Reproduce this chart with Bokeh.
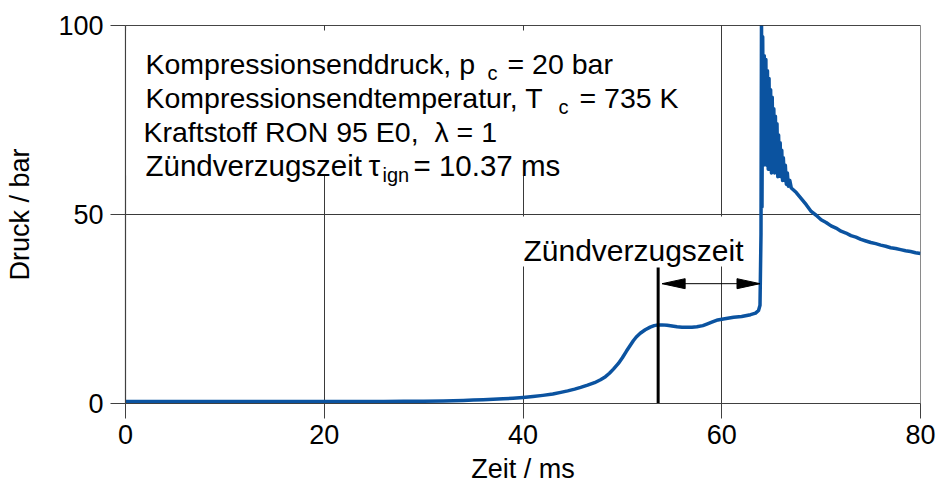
from bokeh.plotting import figure
from bokeh.models import Range1d, FixedTicker, Label, BoxAnnotation, Span
from bokeh.embed import file_html
from bokeh.resources import INLINE

# Gemessener Druckverlauf der Kompressionsmaschine: Zeit in ms, Druck in bar
zeit_ms = [
    0, 2, 4, 6, 8, 10, 12, 14, 16, 18, 20, 22, 24, 26, 28, 30, 32, 33, 34, 35,
    36, 37, 38, 39, 40, 41, 42, 43, 43.8, 44.5, 45.2, 45.8, 46.5, 47.2, 47.8,
    48.3, 48.7, 49.1, 49.6, 50.0, 50.4, 50.8, 51.1, 51.4, 51.8, 52.3, 52.8,
    53.2, 53.6, 54.0, 54.5, 55.0, 55.5, 56.0, 56.5, 57.0, 57.5, 58.1, 58.5,
    59.0, 59.6, 60.3, 61.2, 62.0, 62.9, 63.4, 63.7, 63.85, 63.95,
    64.0, 64.05, 64.12, 64.2, 64.28, 64.36, 64.44, 64.52, 64.6, 64.68, 64.76,
    64.84, 64.92, 65.0, 65.08, 65.16, 65.24, 65.32, 65.4, 65.48, 65.56, 65.64,
    65.72, 65.8, 65.88, 65.96, 66.04, 66.12, 66.2, 66.3, 66.4, 66.5, 66.6,
    66.7, 66.85, 67.0, 67.5, 68.0, 68.5, 69.0, 69.5, 70.0, 70.5, 71.0, 71.5,
    72.0, 72.5, 73.0, 73.5, 74.0, 74.5, 75.0, 75.5, 76.0, 76.5, 77.0, 77.5,
    78.0, 78.5, 79.0, 79.5, 80.0,
]
druck_bar = [
    0.5, 0.5, 0.5, 0.5, 0.5, 0.5, 0.5, 0.5, 0.5, 0.5, 0.5, 0.5, 0.55, 0.55,
    0.6, 0.6, 0.65, 0.7, 0.8, 0.9, 1.0, 1.1, 1.25, 1.4, 1.6, 1.85, 2.15, 2.5,
    2.95, 3.35, 3.8, 4.25, 4.85, 5.5, 6.3, 7.1, 8.0, 9.1, 10.6, 12.1, 13.8,
    15.4, 16.6, 17.6, 18.6, 19.5, 20.2, 20.6, 20.8, 20.8, 20.7, 20.5, 20.3,
    20.2, 20.2, 20.2, 20.3, 20.6, 21.0, 21.5, 22.1, 22.4, 22.8, 23.0, 23.5,
    23.9, 24.6, 26.0, 45.0,
    103.0, 52.0, 97.0, 63.0, 92.0, 64.0, 91.0, 63.0, 88.0, 62.0, 86.0, 62.0,
    83.0, 61.0, 81.0, 62.0, 78.0, 61.0, 76.0, 62.0, 74.0, 60.0, 71.0, 61.0,
    69.0, 60.0, 67.0, 59.0, 65.0, 59.0, 63.0, 58.0, 61.0, 57.5, 59.0, 57.0,
    55.8, 54.2, 52.6, 50.8, 49.8, 48.6, 47.9, 47.0, 46.4, 45.6, 45.1, 44.4,
    44.0, 43.4, 43.0, 42.6, 42.3, 41.9, 41.6, 41.2, 41.0, 40.7, 40.4, 40.2,
    39.9, 39.7,
]

# Zündverzug: Beginn (Ende der Kompression) und Dauer in ms
zv_beginn_ms = 53.6
zv_dauer_ms = 10.37
zv_marke_bis_bar = 36.0
zv_pfeil_bar = 31.7

x_ticks = [0, 20, 40, 60, 80]
y_ticks = [0, 50, 100]

FONT = "Liberation Sans"
BLUE = "#0b53a0"
NBSP = "\u00a0"

# Frame geometry in pixels (used to place annotation text)
W, H = 936, 488
LEFT, RIGHT, TOP, BOTTOM = 125, 16, 25, 85
FW, FH = W - LEFT - RIGHT, H - TOP - BOTTOM
X0, X1, Y0, Y1 = 0, 80, 0, 100


def tx(px):
    return X0 + (px - LEFT) * (X1 - X0) / FW


def ty(py):
    return Y1 - (py - TOP) * (Y1 - Y0) / FH


p = figure(width=W, height=H, output_backend="svg", toolbar_location=None,
           x_range=Range1d(X0, X1), y_range=Range1d(Y0, Y1),
           min_border_left=LEFT, min_border_right=RIGHT,
           min_border_top=TOP, min_border_bottom=BOTTOM)
p.background_fill_color = "white"
p.border_fill_color = "white"
p.outline_line_color = "#8a8a8a"
p.outline_line_width = 1

for ax in (p.xaxis[0], p.yaxis[0]):
    ax.axis_line_color = "#404040"
    ax.axis_line_width = 1.2
    ax.major_tick_line_color = "#404040"
    ax.major_tick_out = 15
    ax.major_tick_in = 0
    ax.minor_tick_line_color = None
    ax.major_label_text_font = FONT
    ax.major_label_text_font_size = "27px"
    ax.major_label_text_color = "black"
    ax.axis_label_text_font = FONT
    ax.axis_label_text_font_size = "27px"
    ax.axis_label_text_font_style = "normal"
    ax.axis_label_text_color = "black"

p.xaxis.ticker = FixedTicker(ticks=x_ticks)
p.yaxis.ticker = FixedTicker(ticks=y_ticks)
p.xaxis.axis_label = "Zeit / ms"
p.yaxis.axis_label = "Druck / bar"
p.xaxis.major_label_standoff = 6
p.yaxis.major_label_standoff = 7
p.xaxis.axis_label_standoff = 7
p.yaxis.axis_label_standoff = 20

p.xgrid.ticker = FixedTicker(ticks=x_ticks)
p.ygrid.ticker = FixedTicker(ticks=y_ticks)
p.grid.grid_line_color = "#3a3a3a"
p.grid.grid_line_width = 1
p.grid.grid_line_alpha = 1.0

# upper frame edge is drawn in black
p.add_layout(Span(location=Y1, dimension="width", line_color="black", line_width=1.2))

# pressure trace
p.line(zeit_ms, druck_bar, line_color=BLUE, line_width=3.5, line_join="round")

# ignition delay marker and double arrow
zv_ende_ms = zv_beginn_ms + zv_dauer_ms
p.segment(x0=[zv_beginn_ms], y0=[0], x1=[zv_beginn_ms], y1=[zv_marke_bis_bar],
          line_color="black", line_width=3)
gap = 4 * (X1 - X0) / FW
a0, a1 = zv_beginn_ms + gap, zv_ende_ms - gap * 0.3
p.segment(x0=[a0], y0=[zv_pfeil_bar], x1=[a1], y1=[zv_pfeil_bar],
          line_color="black", line_width=1)
head_len = 23 * (X1 - X0) / FW
head_half = 5 * (Y1 - Y0) / FH
p.patches(
    xs=[[a0, a0 + head_len, a0 + head_len], [a1, a1 - head_len, a1 - head_len]],
    ys=[[zv_pfeil_bar, zv_pfeil_bar + head_half, zv_pfeil_bar - head_half],
        [zv_pfeil_bar, zv_pfeil_bar + head_half, zv_pfeil_bar - head_half]],
    fill_color="black", line_color="black", line_width=1)

# white panels behind the annotation texts
p.add_layout(BoxAnnotation(left=tx(126), right=tx(702), top=ty(30), bottom=ty(175),
                           fill_color="white", fill_alpha=1.0, line_color=None))
p.add_layout(BoxAnnotation(left=tx(514), right=tx(752), top=ty(216), bottom=ty(266),
                           fill_color="white", fill_alpha=1.0, line_color=None))

MAIN, SUB = "28.5px", "20px"
L4 = "29.5px"
segments = [
    ("Kompressionsenddruck, p", 145, 63, MAIN),
    ("c", 487, 72, SUB),
    ("= 20 bar", 507, 63, MAIN),
    ("Kompressionsendtemperatur, T", 145, 97, MAIN),
    ("c", 558, 106, SUB),
    ("= 735 K", 579, 97, MAIN),
    ("Kraftstoff RON 95 E0," + NBSP + NBSP + "\u03bb = 1", 143, 131, MAIN),
    ("Z\u00fcndverzugszeit", 145, 165, L4),
    ("\u03c4", 368, 165, L4),
    ("ign", 382, 174, SUB),
    ("= 10.37 ms", 413, 165, L4),
]
for txt, px, py, size in segments:
    p.add_layout(Label(x=tx(px), y=ty(py), text=txt, text_font=FONT,
                       text_font_size=size, text_color="black",
                       text_align="left", text_baseline="alphabetic"))

p.add_layout(Label(x=tx(633), y=ty(250), text="Z\u00fcndverzugszeit", text_font=FONT,
                   text_font_size="30px", text_color="black",
                   text_align="center", text_baseline="alphabetic"))

open("out.html", "w").write(file_html(p, INLINE))
